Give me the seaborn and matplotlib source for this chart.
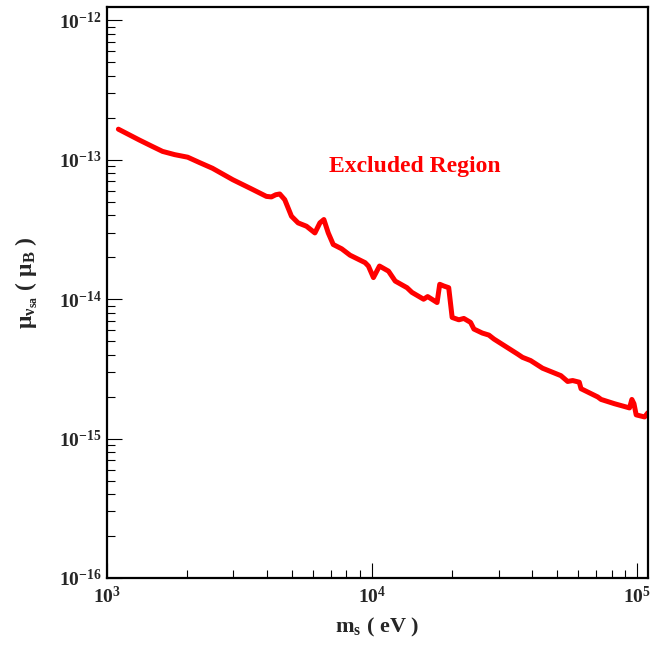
import numpy as np
import pandas as pd
import matplotlib
matplotlib.use("Agg")
import matplotlib.pyplot as plt
import matplotlib.ticker as mticker
import seaborn as sns

# sterile neutrino mass (eV) and magnetic moment upper limit (in mu_B)
mass_ev = [1104, 1322, 1480, 1620, 1800, 2015, 2231, 2500, 2983, 3500,
           3991, 4169, 4330, 4483, 4682,
           4964, 5258, 5656, 6084, 6353, 6577, 6832, 7135, 7678, 8255,
           9408, 9683, 10115, 10660, 11530, 12220, 13540, 14130, 15640, 16200,
           17580, 17990, 18620, 19450, 20040, 21240, 22180, 23510, 24210, 26030,
           27570, 28810, 35320, 36900, 39620, 43930, 51520, 54640, 57070, 60440,
           61380, 70970, 73060, 82030, 93530, 95450, 97200, 99100, 106600, 109600]
mu_limit = [1.66e-13, 1.39e-13, 1.25e-13, 1.15e-13, 1.09e-13, 1.045e-13, 9.57e-14, 8.7e-14, 7.2e-14, 6.2e-14,
            5.47e-14, 5.42e-14, 5.62e-14, 5.69e-14, 5.18e-14,
            3.94e-14, 3.53e-14, 3.34e-14, 2.99e-14, 3.53e-14, 3.73e-14, 2.99e-14, 2.47e-14, 2.30e-14, 2.07e-14,
            1.83e-14, 1.73e-14, 1.43e-14, 1.73e-14, 1.59e-14, 1.35e-14, 1.21e-14, 1.12e-14, 1.0e-14, 1.045e-14,
            9.47e-15, 1.28e-14, 1.245e-14, 1.21e-14, 7.40e-15, 7.12e-15, 7.28e-15, 6.82e-15, 6.11e-15, 5.72e-15,
            5.53e-15, 5.18e-15, 4.05e-15, 3.83e-15, 3.63e-15, 3.20e-15, 2.83e-15, 2.57e-15, 2.61e-15, 2.54e-15,
            2.28e-15, 1.99e-15, 1.91e-15, 1.78e-15, 1.66e-15, 1.91e-15, 1.78e-15, 1.48e-15, 1.43e-15, 1.53e-15]
x_major = [1e3, 1e4, 1e5]
y_major = [1e-16, 1e-15, 1e-14, 1e-13, 1e-12]

sns.set_style("ticks")
plt.rcParams['font.family'] = ['Liberation Serif', 'DejaVu Serif']
plt.rcParams['font.weight'] = 'bold'
plt.rcParams['mathtext.fontset'] = 'custom'
plt.rcParams['mathtext.rm'] = 'Liberation Serif:bold'
plt.rcParams['mathtext.it'] = 'Liberation Serif:italic:bold'
plt.rcParams['mathtext.bf'] = 'Liberation Serif:bold'

df = pd.DataFrame({'m': mass_ev, 'mu': mu_limit})

fig = plt.figure(figsize=(6.7, 6.46), dpi=100)
ax = fig.add_axes([0.1597, 0.1053, 0.8073, 0.8839])
ax.set_xscale('log')
ax.set_yscale('log')
sns.lineplot(data=df, x='m', y='mu', ax=ax, color='#ff0000', lw=3.6,
             sort=False, estimator=None, solid_joinstyle='round',
             solid_capstyle='round')
ax.set_xticks(x_major)
ax.set_yticks(y_major)
ax.set_xlim(1e3, 1.097e5)
ax.set_ylim(1e-16, 1.25e-12)

ax.yaxis.set_minor_formatter(mticker.NullFormatter())
ax.xaxis.set_minor_formatter(mticker.NullFormatter())
ax.tick_params(which='both', direction='in', top=False, right=False,
               width=0.8, color='black', labelsize=14)
ax.tick_params(which='major', length=11)
ax.tick_params(which='minor', length=5.5)
ax.tick_params(axis='y', which='major', pad=4)
ax.tick_params(axis='x', which='major', pad=6)
for s in ax.spines.values():
    s.set_linewidth(1.6)
    s.set_color('black')

ax.set_xlabel(r'$\mathrm{m_{s}\ (\ eV\ )}$', fontsize=16, labelpad=6)
ax.set_ylabel(r'$\mathrm{\mu_{\nu_{sa}}\ (\ \mu_{B}\ )}$', fontsize=17)
ax.yaxis.set_label_coords(-0.124, 0.517)

ax.text(0.569, 0.72, 'Excluded Region', transform=ax.transAxes, ha='center',
        va='center', color='#ff0000', fontsize=17, fontweight='bold')

fig.savefig('out.png', dpi=100)
